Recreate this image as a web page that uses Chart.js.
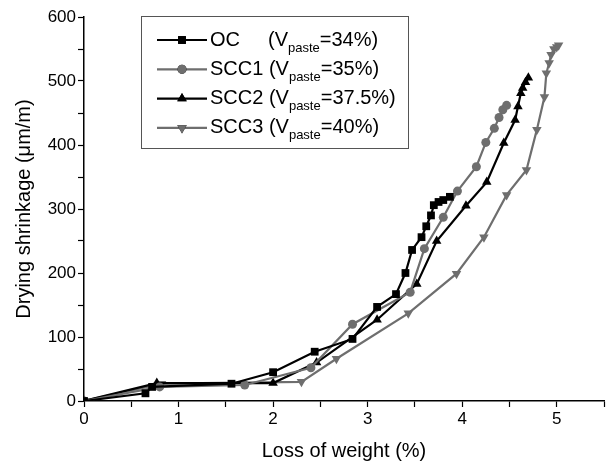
<!DOCTYPE html>
<html>
<head>
<meta charset="utf-8">
<script src="https://cdn.jsdelivr.net/npm/chart.js@4.4.1/dist/chart.umd.min.js"></script>
<style>
  html, body { margin: 0; padding: 0; background: #fff; }
  #wrap { position: relative; width: 606px; height: 465px; }
</style>
</head>
<body>
<div id="wrap"><canvas id="myChart" width="606" height="465"></canvas></div>
<script>
// loss of weight (%) vs drying shrinkage (um/m)
var xOC = [0, 0.65, 0.72, 1.56, 2.0, 2.44, 2.84, 3.10, 3.30, 3.40, 3.47, 3.57, 3.62, 3.67, 3.70, 3.75, 3.80, 3.87];
var yOC = [0, 12, 22, 27, 45, 77, 97, 147, 167, 200, 236, 256, 273, 290, 306, 311, 314, 319];

var xSCC1 = [0, 0.80, 1.70, 2.40, 2.84, 3.45, 3.60, 3.80, 3.95, 4.15, 4.25, 4.34, 4.39, 4.43, 4.47];
var ySCC1 = [0, 22, 25, 52, 120, 170, 238, 287, 328, 366, 404, 426, 443, 455, 462];

var xSCC2 = [0, 0.77, 2.0, 2.46, 3.10, 3.52, 3.73, 4.04, 4.26, 4.44, 4.56, 4.59, 4.62, 4.64, 4.67, 4.70];
var ySCC2 = [0, 28, 28, 60, 127, 183, 250, 305, 342, 403, 439, 460, 481, 489, 498, 505];

var xSCC3 = [0, 0.82, 2.30, 2.67, 3.43, 3.94, 4.23, 4.47, 4.68, 4.79, 4.87, 4.89, 4.92, 4.94, 4.97, 5.00, 5.02];
var ySCC3 = [0, 27, 30, 66, 137, 199, 256, 322, 361, 424, 475, 512, 528, 541, 550, 553, 556];

var names = ["OC", "SCC1", "SCC2", "SCC3"];
var pastePct = ["34%", "35%", "37.5%", "40%"];
var xTitle = "Loss of weight (%)";
var yTitle = "Drying shrinkage (\u03bcm/m)";

var black = "#000000";
var gray = "#6e6e6e";
var colors = [black, gray, black, gray];
var styles = ["rect", "circle", "triangle", "triangle"];
var rots = [0, 0, 0, 180];
var radii = [5.5, 4.5, 5.5, 5.5];

function pts(xs, ys) {
  return xs.map(function (x, i) { return { x: x, y: ys[i] }; });
}
var allX = [xOC, xSCC1, xSCC2, xSCC3];
var allY = [yOC, ySCC1, ySCC2, ySCC3];

var datasets = names.map(function (n, i) {
  return {
    label: n,
    data: pts(allX[i], allY[i]),
    showLine: true,
    borderColor: colors[i],
    backgroundColor: colors[i],
    borderWidth: 2.2,
    pointStyle: styles[i],
    rotation: rots[i],
    pointRadius: radii[i],
    pointBorderWidth: 0,
    tension: 0
  };
});

var FONT = "'Liberation Sans', Arial, sans-serif";

// legend with subscripts, drawn in a framed box
var legendBox = {
  id: 'legendBox',
  afterDraw: function (chart) {
    var ctx = chart.ctx;
    ctx.save();
    ctx.strokeStyle = "#555";
    ctx.lineWidth = 1;
    ctx.strokeRect(141.5, 16.5, 267, 132);
    for (var i = 0; i < names.length; i++) {
      var y = 40 + i * 29.3;
      ctx.strokeStyle = colors[i];
      ctx.lineWidth = 2.2;
      ctx.beginPath();
      ctx.moveTo(157, y);
      ctx.lineTo(207, y);
      ctx.stroke();
      Chart.helpers.drawPoint(ctx, {
        pointStyle: styles[i], rotation: rots[i], radius: radii[i], borderWidth: 0
      }, 182, y);
      ctx.fillStyle = colors[i];
      ctx.fill();
      ctx.fillStyle = "#000";
      ctx.textBaseline = "middle";
      ctx.textAlign = "left";
      ctx.font = "20px " + FONT;
      ctx.fillText(names[i], 210, y);
      var x0 = i === 0 ? 268 : 210 + ctx.measureText(names[i] + " ").width;
      ctx.fillText("(V", x0, y);
      x0 += ctx.measureText("(V").width;
      ctx.font = "13px " + FONT;
      ctx.fillText("paste", x0, y + 8);
      x0 += ctx.measureText("paste").width;
      ctx.font = "20px " + FONT;
      ctx.fillText("=" + pastePct[i] + ")", x0, y);
    }
    ctx.restore();
  }
};

new Chart("myChart", {
  type: "scatter",
  data: { datasets: datasets },
  options: {
    responsive: false,
    animation: false,
    layout: { autoPadding: false, padding: { top: 17, right: 0, left: 0, bottom: 0 } },
    plugins: { legend: { display: false }, tooltip: { enabled: false } },
    scales: {
      x: {
        type: "linear",
        min: 0, max: 5.5,
        border: { color: "#000", width: 1.5 },
        grid: { drawOnChartArea: false, color: "#000", tickLength: 6, tickWidth: 1.2 },
        ticks: {
          stepSize: 0.5, color: "#000", font: { size: 17, family: FONT }, padding: 2,
          maxRotation: 0,
          callback: function (v) { return (v % 1 === 0 && v <= 5) ? v : ""; }
        },
        title: { display: true, text: xTitle, color: "#000", font: { size: 20, family: FONT }, padding: { top: 4, bottom: 2 } },
        afterFit: function (s) { s.height = 64; }
      },
      y: {
        min: 0, max: 600,
        border: { color: "#000", width: 1.5 },
        grid: { drawOnChartArea: false, color: "#000", tickLength: 6, tickWidth: 1.2 },
        ticks: {
          stepSize: 50, color: "#000", font: { size: 17, family: FONT }, padding: 2,
          callback: function (v) { return v % 100 === 0 ? v : ""; }
        },
        title: { display: true, text: yTitle, color: "#000", font: { size: 20, family: FONT }, padding: { top: 12, bottom: 2 } },
        afterFit: function (s) { s.width = 84; }
      }
    }
  },
  plugins: [legendBox]
});
</script>
</body>
</html>
